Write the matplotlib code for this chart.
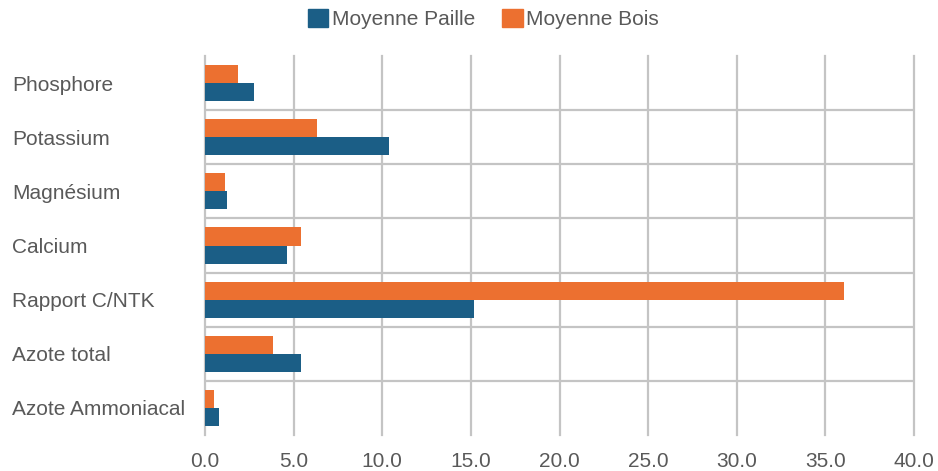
import matplotlib.pyplot as plt
from matplotlib.patches import Patch
import numpy as np

plt.rcParams['font.family'] = ['Liberation Sans', 'DejaVu Sans']

# values
categories = ['Phosphore', 'Potassium', 'Magnésium', 'Calcium',
              'Rapport C/NTK', 'Azote total', 'Azote Ammoniacal']
paille = [2.78, 10.4, 1.24, 4.65, 15.2, 5.42, 0.81]
bois = [1.84, 6.34, 1.14, 5.40, 36.05, 3.84, 0.49]
xticks = [0, 5, 10, 15, 20, 25, 30, 35, 40]

blue = '#1b5e86'
orange = '#ec7030'
grid_c = '#c4c4c4'
text_c = '#595959'

fig = plt.figure(figsize=(9.38, 4.71), dpi=100)
ax = fig.add_axes([205 / 938, 1 - 435 / 471, 709 / 938, 379 / 471])

y = np.arange(len(categories))
h = 1 / 3
ax.barh(y - h / 2, bois, height=h, color=orange, zorder=3)
ax.barh(y + h / 2, paille, height=h, color=blue, zorder=3)

ax.set_xlim(0, 40)
ax.set_ylim(len(categories) - 0.5, -0.5)

# vertical grid lines
for xv in xticks:
    ax.axvline(xv, color=grid_c, lw=1.6, zorder=1, clip_on=False)
# separators between categories
for yv in y[:-1] + 0.5:
    ax.axhline(yv, color=grid_c, lw=1.6, zorder=1)

for s in ax.spines.values():
    s.set_visible(False)

ax.set_xticks(xticks)
ax.set_xticklabels(['%.1f' % v for v in xticks])
ax.set_yticks(y)
ax.set_yticklabels(categories, ha='left')
ax.tick_params(axis='x', length=0, pad=12, labelsize=15, labelcolor=text_c)
ax.tick_params(axis='y', length=0, pad=139, labelsize=15, labelcolor=text_c)

handles = [Patch(color=blue, label='Moyenne Paille'),
           Patch(color=orange, label='Moyenne Bois')]
fig.legend(handles=handles, loc='center', bbox_to_anchor=(0.515, 1 - 19 / 471),
           ncol=2, frameon=False, fontsize=15, labelcolor=text_c,
           handlelength=1.0, handleheight=1.0, handletextpad=0.15,
           columnspacing=1.3)

fig.savefig('out.png', dpi=100)
